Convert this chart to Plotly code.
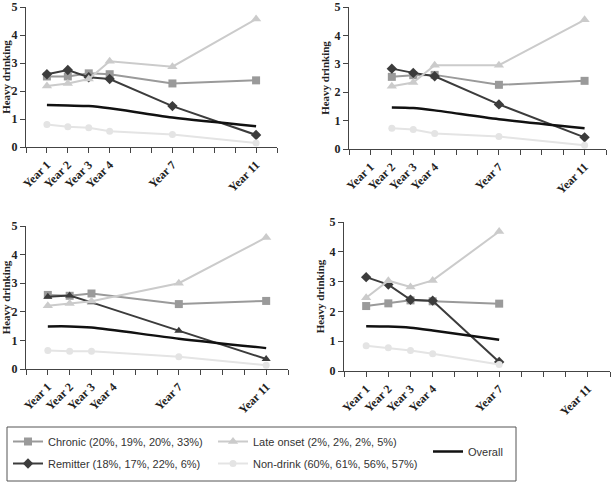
import plotly.graph_objects as go

# ---------------- data ----------------
panel_years = [
    [1, 2, 3, 4, 7, 11],
    [2, 3, 4, 7, 11],
    [1, 2, 3, 7, 11],
    [1, 2, 3, 4, 7],
]
chronic = [
    [2.52, 2.52, 2.63, 2.6, 2.27, 2.38],
    [2.54, 2.6, 2.61, 2.26, 2.4],
    [2.59, 2.56, 2.64, 2.27, 2.38],
    [2.18, 2.27, 2.37, 2.34, 2.26],
]
late_onset = [
    [2.18, 2.27, 2.43, 3.06, 2.87, 4.57],
    [2.21, 2.34, 2.95, 2.95, 4.55],
    [2.21, 2.29, 2.37, 3.0, 4.6],
    [2.46, 3.03, 2.82, 3.04, 4.68],
]
remitter = [
    [2.6, 2.75, 2.49, 2.43, 1.46, 0.43],
    [2.83, 2.68, 2.56, 1.57, 0.41],
    [2.53, 2.57, 2.33, 1.34, 0.35],
    [3.15, 2.9, 2.39, 2.36, 0.3],
]
non_drink = [
    [0.8, 0.72, 0.69, 0.56, 0.45, 0.14],
    [0.73, 0.69, 0.55, 0.44, 0.13],
    [0.65, 0.62, 0.62, 0.43, 0.13],
    [0.85, 0.78, 0.69, 0.58, 0.22],
]
overall = [
    [1.5, 1.48, 1.46, 1.38, 1.05, 0.74],
    [1.46, 1.44, 1.36, 1.05, 0.73],
    [1.49, 1.49, 1.45, 1.06, 0.73],
    [1.5, 1.49, 1.45, 1.36, 1.05],
]
remitter_symbol = ["diamond", "diamond", "triangle-up", "diamond"]

series_names = {
    "chronic": "Chronic (20%, 19%, 20%, 33%)",
    "remitter": "Remitter (18%, 17%, 22%, 6%)",
    "late": "Late onset (2%, 2%, 2%, 5%)",
    "non": "Non-drink (60%, 61%, 56%, 57%)",
    "overall": "Overall",
}
tick_years = list(range(0, 13))
tick_label_years = {1: "Year 1", 2: "Year 2", 3: "Year 3", 4: "Year 4", 7: "Year 7", 11: "Year 11"}
y_ticks = [0, 1, 2, 3, 4, 5]

# ---------------- layout geometry ----------------
W, H = 615, 484
panel_px = [  # (x0, x1, ytop, ybottom) in pixels
    (26, 277, 7, 147),
    (349, 606, 7, 149),
    (26, 288, 226, 369),
    (344, 610, 222, 371),
]

C_CHRONIC = "#9a9a9a"
C_LATE = "#cbcbcb"
C_REMIT = "#3c3c3c"
C_NON = "#e4e4e4"
C_OVERALL = "#111111"

SERIF = "Liberation Serif, Times New Roman, serif"
fig = go.Figure()

for i in range(4):
    xa = "x" if i == 0 else f"x{i+1}"
    ya = "y" if i == 0 else f"y{i+1}"
    yrs = panel_years[i]
    show = i == 0
    fig.add_trace(go.Scatter(x=yrs, y=chronic[i], xaxis=xa, yaxis=ya, mode="lines+markers",
                             name=series_names["chronic"], legend="legend", legendgroup="chronic",
                             showlegend=show, line=dict(color=C_CHRONIC, width=2),
                             marker=dict(symbol="square", size=8, color=C_CHRONIC)))
    fig.add_trace(go.Scatter(x=yrs, y=remitter[i], xaxis=xa, yaxis=ya, mode="lines+markers",
                             name=series_names["remitter"], legend="legend", legendgroup="remitter",
                             showlegend=show, line=dict(color=C_REMIT, width=2),
                             marker=dict(symbol=remitter_symbol[i], size=8, color=C_REMIT)))
    fig.add_trace(go.Scatter(x=yrs, y=late_onset[i], xaxis=xa, yaxis=ya, mode="lines+markers",
                             name=series_names["late"], legend="legend2", legendgroup="late",
                             showlegend=show, line=dict(color=C_LATE, width=2),
                             marker=dict(symbol="triangle-up", size=9, color=C_LATE)))
    fig.add_trace(go.Scatter(x=yrs, y=non_drink[i], xaxis=xa, yaxis=ya, mode="lines+markers",
                             name=series_names["non"], legend="legend2", legendgroup="non",
                             showlegend=show, line=dict(color=C_NON, width=2),
                             marker=dict(symbol="circle", size=7, color=C_NON)))
    fig.add_trace(go.Scatter(x=yrs, y=overall[i], xaxis=xa, yaxis=ya, mode="lines",
                             name=series_names["overall"], legend="legend3", legendgroup="overall",
                             showlegend=show,
                             line=dict(color=C_OVERALL, width=2.5, shape="spline", smoothing=0.8)))

layout = dict(
    width=W, height=H, margin=dict(l=0, r=0, t=0, b=0, autoexpand=False),
    paper_bgcolor="white", plot_bgcolor="white",
    font=dict(family="Liberation Sans, Arial, sans-serif", size=12, color="#222"),
)
for i, (x0, x1, yt, yb) in enumerate(panel_px):
    xk = "xaxis" if i == 0 else f"xaxis{i+1}"
    yk = "yaxis" if i == 0 else f"yaxis{i+1}"
    ya = "y" if i == 0 else f"y{i+1}"
    xa = "x" if i == 0 else f"x{i+1}"
    layout[xk] = dict(
        domain=[x0 / W, x1 / W], anchor=ya, range=[0, 12], automargin=False,
        tickvals=tick_years, ticktext=[tick_label_years.get(t, "") for t in tick_years],
        tickangle=-45, ticks="outside", ticklen=5, tickwidth=1, tickcolor="#444",
        showline=True, linecolor="#444", linewidth=1, showgrid=False, zeroline=False,
        tickfont=dict(family=SERIF, size=12, color="#222", weight="bold"),
    )
    layout[yk] = dict(
        domain=[1 - yb / H, 1 - yt / H], anchor=xa, range=[0, 5], automargin=False,
        tickvals=y_ticks, ticks="outside", ticklen=5, tickwidth=1, tickcolor="#444",
        showline=True, linecolor="#444", linewidth=1, showgrid=False, zeroline=False,
        tickfont=dict(family=SERIF, size=12, color="#222", weight="bold"),
        title=dict(text="Heavy drinking", standoff=2,
                   font=dict(family=SERIF, size=11, color="#222", weight="bold")),
    )

leg_common = dict(orientation="v", bgcolor="rgba(0,0,0,0)", borderwidth=0,
                  font=dict(family="Liberation Sans, Arial, sans-serif", size=11, color="#333"),
                  xanchor="left", yanchor="top", tracegroupgap=3, itemwidth=30)
layout["legend"] = dict(leg_common, x=8 / W, y=1 - 427 / H)
layout["legend2"] = dict(leg_common, x=213 / W, y=1 - 427 / H)
layout["legend3"] = dict(leg_common, x=428 / W, y=1 - 437 / H)
layout["shapes"] = [dict(type="rect", xref="paper", yref="paper",
                         x0=7 / W, x1=516 / W, y0=1 - 481 / H, y1=1 - 427 / H,
                         line=dict(color="#555", width=1), fillcolor="rgba(0,0,0,0)")]
fig.update_layout(**layout)
fig.write_html("out.html", config={"displayModeBar": False},
               post_script="document.body.style.margin='0px';")
